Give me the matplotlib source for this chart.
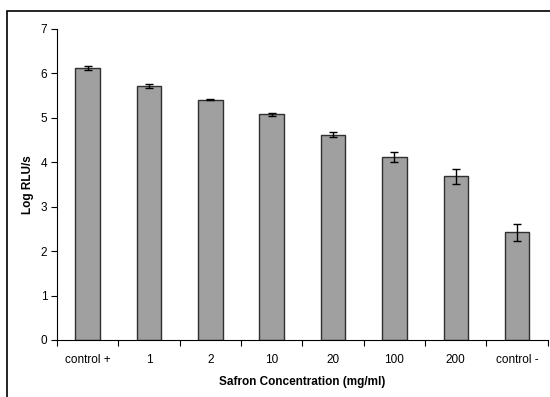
import matplotlib
matplotlib.use("Agg")
import matplotlib.pyplot as plt
from matplotlib.patches import Rectangle
import numpy as np

categories = ["control +", "1", "2", "10", "20", "100", "200", "control -"]
values = [6.12, 5.72, 5.41, 5.08, 4.62, 4.11, 3.68, 2.42]
errors = [0.04, 0.05, 0.01, 0.04, 0.06, 0.11, 0.16, 0.20]

plt.rcParams['font.family'] = ['Liberation Sans', 'DejaVu Sans']

fig = plt.figure(figsize=(5.5, 3.97), dpi=100)
ax = fig.add_axes([0.1036, 0.1436, 0.8924, 0.7834])

x = np.arange(len(categories))
ax.bar(x, values, width=0.4, color='#a0a0a0', edgecolor='#303030', linewidth=1.0, zorder=2)
ax.errorbar(x, values, yerr=errors, fmt='none', ecolor='black', elinewidth=1.0, capsize=3, capthick=1.0, zorder=3)

ax.set_xlim(-0.5, len(categories) - 0.5)
ax.set_ylim(0, 7)
ax.set_yticks(range(0, 8))
ax.set_xticks(x)
ax.set_xticklabels(categories)
ax.set_xticks(np.arange(-0.5, len(categories), 1), minor=True)
ax.tick_params(axis='x', which='major', length=0, pad=10, labelsize=8.5)
ax.tick_params(axis='x', which='minor', length=4, direction='out', width=0.8)
ax.tick_params(axis='y', length=4, direction='out', width=0.8, labelsize=8.5, pad=3)

for s in ['top', 'right']:
    ax.spines[s].set_visible(False)
for s in ['left', 'bottom']:
    ax.spines[s].set_linewidth(0.8)
    ax.spines[s].set_color('black')

ax.set_ylabel("Log RLU/s", fontsize=8.5, fontweight='bold', labelpad=5)
ax.set_xlabel("Safron Concentration (mg/ml)", fontsize=8.5, fontweight='bold', labelpad=7)

# outer frame
fig.patches.append(Rectangle((7/550, -0.5), 2.0, 1.5 - 11/397, transform=fig.transFigure,
                             fill=False, edgecolor='black', linewidth=1.2))

fig.savefig("out.png", dpi=100)
